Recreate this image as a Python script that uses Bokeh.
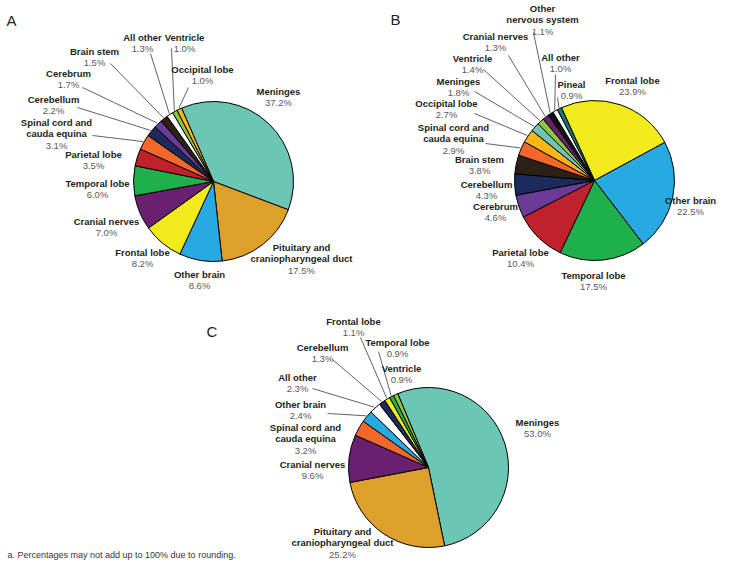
import math
from bokeh.plotting import figure
from bokeh.models import Range1d, ColumnDataSource
from bokeh.core.properties import value
from bokeh.embed import file_html
from bokeh.resources import INLINE

# ---------------- DATA ----------------
a_categories = ["Meninges", "Pituitary and\ncraniopharyngeal duct", "Other brain", "Frontal lobe",
                "Cranial nerves", "Temporal lobe", "Parietal lobe", "Spinal cord and\ncauda equina",
                "Cerebellum", "Cerebrum", "Brain stem", "All other", "Ventricle", "Occipital lobe"]
a_values = [37.2, 17.5, 8.6, 8.2, 7.0, 6.0, 3.5, 3.1, 2.2, 1.7, 1.5, 1.3, 1.0, 1.0]

b_categories = ["Frontal lobe", "Other brain", "Temporal lobe", "Parietal lobe", "Cerebrum",
                "Cerebellum", "Brain stem", "Spinal cord and\ncauda equina", "Occipital lobe",
                "Meninges", "Ventricle", "Cranial nerves", "Other\nnervous system", "All other", "Pineal"]
b_values = [23.9, 22.5, 17.5, 10.4, 4.6, 4.3, 3.8, 2.9, 2.7, 1.8, 1.4, 1.3, 1.1, 1.0, 0.9]

c_categories = ["Meninges", "Pituitary and\ncraniopharyngeal duct", "Cranial nerves",
                "Spinal cord and\ncauda equina", "Other brain", "All other", "Cerebellum",
                "Frontal lobe", "Temporal lobe", "Ventricle"]
c_values = [53.0, 25.2, 9.6, 3.2, 2.4, 2.3, 1.3, 1.1, 0.9, 0.9]

panel_letters = ["A", "B", "C"]
footnote = "a. Percentages may not add up to 100% due to rounding."

# ---------------- STYLE ----------------
colors = {
    "Meninges": "#6CC6B4",
    "Pituitary and\ncraniopharyngeal duct": "#DDA02A",
    "Other brain": "#27AAE1",
    "Frontal lobe": "#F3EA1C",
    "Cranial nerves": "#69206E",
    "Temporal lobe": "#1FB04C",
    "Parietal lobe": "#C1202D",
    "Spinal cord and\ncauda equina": "#F2672A",
    "Cerebellum": "#1C2B5B",
    "Cerebrum": "#6C3A97",
    "Brain stem": "#2B2116",
    "All other": "#FFFFFF",
    "Ventricle": "#8CC63F",
    "Occipital lobe": "#FBB515",
    "Other\nnervous system": "#111111",
    "Pineal": "#0F7B7F",
}

# layout: label (x center, y of first line, leader start or None) in picture pixels
a_layout = {
    "Meninges": (278, 91, None),
    "Pituitary and\ncraniopharyngeal duct": (301, 247, None),
    "Other brain": (199, 274, None),
    "Frontal lobe": (142, 252, None),
    "Cranial nerves": (106, 221, None),
    "Temporal lobe": (97, 183, None),
    "Parietal lobe": (93, 154, None),
    "Spinal cord and\ncauda equina": (56, 122, (92, 135)),
    "Cerebellum": (53, 99, (77, 107)),
    "Cerebrum": (68, 73, (82, 87)),
    "Brain stem": (94, 51, (110, 63)),
    "All other": (142, 37, (150, 53)),
    "Ventricle": (184, 37, (171, 48)),
    "Occipital lobe": (202, 69, (188, 87)),
}
b_layout = {
    "Frontal lobe": (632, 80, None),
    "Other brain": (690, 200, None),
    "Temporal lobe": (593, 275, None),
    "Parietal lobe": (520, 252, None),
    "Cerebrum": (495, 206, None),
    "Cerebellum": (486, 184, None),
    "Brain stem": (479, 159, None),
    "Spinal cord and\ncauda equina": (453, 127, (485, 143)),
    "Occipital lobe": (446, 103, (474, 113)),
    "Meninges": (458, 81, (474, 91)),
    "Ventricle": (472, 58, (483, 69)),
    "Cranial nerves": (495, 36, (508, 55)),
    "Other\nnervous system": (542, 8, (533, 32)),
    "All other": (560, 57, (555, 74)),
    "Pineal": (571, 84, (557, 97)),
}
c_layout = {
    "Meninges": (537, 422, None),
    "Pituitary and\ncraniopharyngeal duct": (342, 531, None),
    "Cranial nerves": (312, 464, None),
    "Spinal cord and\ncauda equina": (305, 427, None),
    "Other brain": (300, 404, (327, 413)),
    "All other": (297, 377, (312, 388)),
    "Cerebellum": (322, 347, (332, 359)),
    "Frontal lobe": (353, 321, (360, 337)),
    "Temporal lobe": (397, 342, (378, 351)),
    "Ventricle": (401, 368, None),
}

pies = [
    dict(cats=a_categories, vals=a_values, layout=a_layout, cx=213, cy=181, r=80, start=-23.5, letter=(11, 20)),
    dict(cats=b_categories, vals=b_values, layout=b_layout, cx=594, cy=180, r=80, start=-24.4, letter=(395, 19)),
    dict(cats=c_categories, vals=c_values, layout=c_layout, cx=428, cy=467, r=80, start=-22.6, letter=(211.5, 330.5)),
]

W, H = 718, 561
LH = 11.3
FONT = value("Liberation Sans")
NAME_COLOR = "#231F20"
PCT_COLOR = "#58595B"


def Y(y):
    return H - y


p = figure(width=W, height=H, output_backend="svg", toolbar_location=None,
           x_range=Range1d(0, W), y_range=Range1d(0, H),
           x_axis_location=None, y_axis_location=None, min_border=0)
p.grid.visible = False
p.outline_line_color = None
p.background_fill_color = "white"
p.border_fill_color = "white"

for k, pie in enumerate(pies):
    vals = pie["vals"]
    total = sum(vals)
    starts, ends, cols, mids = [], [], [], []
    cum = 0.0
    for cat, v in zip(pie["cats"], vals):
        t0 = pie["start"] + cum / total * 360.0
        cum += v
        t1 = pie["start"] + cum / total * 360.0
        starts.append(math.radians(90 - t0))
        ends.append(math.radians(90 - t1))
        mids.append((t0 + t1) / 2)
        cols.append(colors[cat])
    src = ColumnDataSource(dict(start=starts, end=ends, color=cols,
                                x=[pie["cx"]] * len(vals), y=[Y(pie["cy"])] * len(vals)))
    p.wedge(x="x", y="y", radius=pie["r"], start_angle="start", end_angle="end",
            direction="clock", fill_color="color", line_color="black", line_width=1, source=src)

    nx, ny, ntxt, px_, py_, ptxt = [], [], [], [], [], []
    x0s, y0s, x1s, y1s = [], [], [], []
    for cat, v, m in zip(pie["cats"], vals, mids):
        lx, ly, anchor = pie["layout"][cat]
        lines = cat.split("\n")
        for i, line in enumerate(lines):
            nx.append(lx)
            ny.append(Y(ly + i * LH))
            ntxt.append(line)
        px_.append(lx)
        py_.append(Y(ly + len(lines) * LH))
        ptxt.append(f"{v:.1f}%")
        if anchor is not None:
            rr = pie["r"] + 1
            ex = pie["cx"] + rr * math.sin(math.radians(m))
            ey = pie["cy"] - rr * math.cos(math.radians(m))
            x0s.append(anchor[0]); y0s.append(Y(anchor[1]))
            x1s.append(ex); y1s.append(Y(ey))
    if x0s:
        p.segment(x0=x0s, y0=y0s, x1=x1s, y1=y1s, line_color="#3A3A3A", line_width=0.8)
    p.text(x=nx, y=ny, text=ntxt, text_align="center", text_baseline="middle",
           text_font=FONT, text_font_style="bold", text_font_size="9.5px", text_color=NAME_COLOR)
    p.text(x=px_, y=py_, text=ptxt, text_align="center", text_baseline="middle",
           text_font=FONT, text_font_size="9.5px", text_color=PCT_COLOR)
    lx, ly = pie["letter"]
    p.text(x=[lx], y=[Y(ly)], text=[panel_letters[k]], text_align="center", text_baseline="middle",
           text_font=FONT, text_font_size="15px", text_color=NAME_COLOR)

p.text(x=[7], y=[Y(554)], text=[footnote], text_align="left", text_baseline="middle",
       text_font=FONT, text_font_size="9px", text_color="#333333")

open("out.html", "w").write(file_html(p, INLINE))
